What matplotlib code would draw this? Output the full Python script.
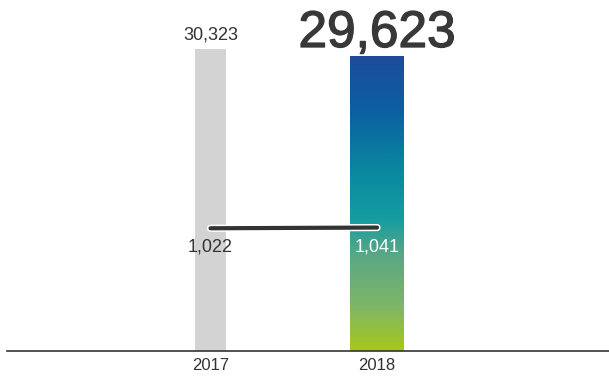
import matplotlib
matplotlib.use("Agg")
import numpy as np
import matplotlib.pyplot as plt
import matplotlib.patheffects as pe
from matplotlib.colors import LinearSegmentedColormap

years = ["2017", "2018"]
bar_values = [30323, 29623]
line_values = [1022, 1041]
bar_labels = ["30,323", "29,623"]
line_labels = ["1,022", "1,041"]

plt.rcParams["font.family"] = ["Liberation Sans", "DejaVu Sans"]

fig = plt.figure(figsize=(6.09, 3.76), dpi=100)
ax = fig.add_axes([7 / 609, 25 / 376, 602 / 609, 351 / 376])
x = np.arange(len(years))

bars = ax.bar(x, bar_values, width=[0.186, 0.324], color=["#d3d3d3", "none"],
              zorder=1)

# gradient fill for the 2018 bar
grad = LinearSegmentedColormap.from_list("g", [
    (0.0, "#a8c81a"), (0.15, "#7fb668"), (0.32, "#5aa884"),
    (0.45, "#149ca2"), (0.6, "#0a8aa0"), (0.8, "#0a62a2"),
    (1.0, "#1e4b9c")])
b = bars[1]
img = ax.imshow(np.linspace(0, 1, 256).reshape(-1, 1), cmap=grad, origin="lower",
                extent=[b.get_x(), b.get_x() + b.get_width(), 0, b.get_height()],
                aspect="auto", zorder=1)
img.set_clip_path(b)
ax.set_xlim(-1.222, 2.393)
ax.set_ylim(0, 35244)

# value labels above the bars
ax.annotate(bar_labels[0], (x[0], bar_values[0]), xytext=(0, 6.5),
            textcoords="offset points", ha="center", va="baseline",
            fontsize=13, color="#333333")
ax.annotate(bar_labels[1], (x[1], bar_values[1]), xytext=(0, 6.5),
            textcoords="offset points", ha="center", va="baseline",
            fontsize=37, color="#383838",
            path_effects=[pe.Stroke(linewidth=1.0, foreground="#383838"), pe.Normal()])

ax2 = ax.twinx()
ax2.set_position(ax.get_position())
ax2.set_ylim(-2300, 7200)
ax2.plot(x, line_values, color="#333333", lw=3, solid_capstyle="round", zorder=3,
         path_effects=[pe.Stroke(linewidth=5.2, foreground="white"), pe.Normal()])
for i, (xv, yv) in enumerate(zip(x, line_values)):
    ax2.annotate(line_labels[i], (xv, yv), xytext=(0, -17),
                 textcoords="offset points", ha="center", va="baseline",
                 fontsize=13, color="#333333" if i == 0 else "white")

for a in (ax, ax2):
    for s in ["top", "left", "right"]:
        a.spines[s].set_visible(False)
    a.set_yticks([])
ax2.spines["bottom"].set_visible(False)
ax.spines["bottom"].set_color("#333333")
ax.spines["bottom"].set_linewidth(1.2)
ax.set_xticks(x)
ax.set_xticklabels(years, fontsize=12, color="#333333")
ax.tick_params(axis="x", length=0, pad=5)

fig.savefig("out.png", dpi=100)
